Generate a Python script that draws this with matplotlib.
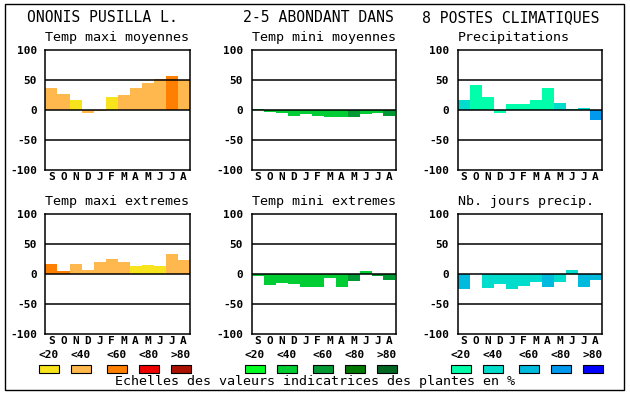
import matplotlib
matplotlib.use("Agg")
import matplotlib.pyplot as plt
from matplotlib.patches import Rectangle

months = ["S", "O", "N", "D", "J", "F", "M", "A", "M", "J", "J", "A"]
classes = ["<20", "<40", "<60", "<80", ">80"]

# palettes for the three families of indicators
warm = ["#F8E41C", "#FFB84D", "#FF8000", "#EE0000", "#AA1100"]
green = ["#00FF22", "#00CC33", "#009933", "#007700", "#006622"]
blue = ["#00FFAA", "#00DDCC", "#00BBDD", "#0099EE", "#0000FF"]

# values (%) and class index of each month
tmax_moy = [37, 27, 17, -5.5, -2, 22, 25.5, 37, 45.5, 52, 57, 50]
tmax_moy_cls = [1, 1, 0, 1, 1, 0, 1, 1, 1, 1, 2, 1]
tmin_moy = [2, -3, -5.5, -10.5, -7, -10.5, -12, -12, -12, -7, -5.5, -10.5]
tmin_moy_cls = [1, 1, 1, 1, 1, 1, 1, 1, 2, 1, 1, 2]
precip = [17, 42, 22, -5.5, 10.5, 10.5, 17, 37, 12, 2, 3, -16]
precip_cls = [1, 0, 0, 0, 0, 0, 0, 0, 1, 1, 1, 3]
tmax_ext = [17, 5, 17, 7, 20, 25, 20, 13, 15, 13, 33, 23]
tmax_ext_cls = [2, 2, 1, 1, 1, 1, 1, 0, 0, 0, 1, 1]
tmin_ext = [-4, -18, -14.5, -16, -22, -21, -6, -21, -12, 5.5, -3.5, -10.5]
tmin_ext_cls = [1, 1, 1, 1, 1, 1, 1, 1, 2, 1, 2, 2]
nb_jours = [-25.5, 0, -24, -16, -25.5, -20.5, -14, -22, -14, 7, -22, -10.5]
nb_jours_cls = [2, 1, 1, 1, 1, 1, 1, 2, 1, 1, 2, 2]

W, H = 630, 394
mono = "DejaVu Sans Mono"
small = 8.0

fig = plt.figure(figsize=(W / 100, H / 100), dpi=100)
fig.patches.append(Rectangle((5 / W, 1 - 390 / H), 619 / W, 386 / H,
                             transform=fig.transFigure, fill=False,
                             edgecolor="black", linewidth=1))


def px(x, y):
    return x / W, 1 - y / H


def panel(x0, y0, title, vals, cls, pal):
    ax = fig.add_axes([x0 / W, 1 - (y0 + 120) / H, 144 / W, 120 / H])
    cols = [pal[c] for c in cls]
    ax.bar(range(12), vals, width=1.0, color=cols, zorder=1)
    for yv in (-50, 0, 50):
        ax.axhline(yv, color="black", linewidth=1.1, zorder=3)
    ax.set_xlim(-0.5, 11.5)
    ax.set_ylim(-100, 100)
    ax.set_yticks([100, 50, 0, -50, -100])
    ax.set_yticklabels(["100", "50", "0", "-50", "-100"], fontfamily=mono,
                       fontweight="bold", fontsize=small)
    ax.set_xticks(range(12))
    ax.set_xticklabels(months, fontfamily=mono, fontweight="bold", fontsize=small)
    ax.tick_params(axis="x", length=0, pad=1.5)
    ax.tick_params(axis="y", length=0, pad=6)
    for s in ax.spines.values():
        s.set_linewidth(1.1)
    fx, fy = px(x0, y0 - 12)
    fig.text(fx, fy, title, fontfamily=mono, fontsize=9.6, ha="left", va="center")
    return ax


col_x = [45.5, 251.5, 457.5]
top_y, bot_y = 50, 214

panel(col_x[0], top_y, "Temp maxi moyennes", tmax_moy, tmax_moy_cls, warm)
panel(col_x[1], top_y, "Temp mini moyennes", tmin_moy, tmin_moy_cls, green)
panel(col_x[2], top_y, "Precipitations", precip, precip_cls, blue)
panel(col_x[0], bot_y, "Temp maxi extremes", tmax_ext, tmax_ext_cls, warm)
panel(col_x[1], bot_y, "Temp mini extremes", tmin_ext, tmin_ext_cls, green)
panel(col_x[2], bot_y, "Nb. jours precip.", nb_jours, nb_jours_cls, blue)

# legend swatches under each column
offsets = [-6.5, 25.5, 61.5, 93.5, 125.5]
for x0, pal in zip(col_x, [warm, green, blue]):
    for off, c, lab in zip(offsets, pal, classes):
        lx = x0 + off
        fig.patches.append(Rectangle(px(lx, 373), 20 / W, 8 / H,
                                     transform=fig.transFigure,
                                     facecolor=c, edgecolor="black", linewidth=0.8))
        tx, ty = px(lx + 10, 358)
        fig.text(tx, ty, lab, fontfamily=mono, fontweight="bold", fontsize=small,
                 ha="center", va="baseline")

# header
for x, t in [(27, "ONONIS PUSILLA L."), (243, "2-5 ABONDANT DANS"),
             (422, "8 POSTES CLIMATIQUES")]:
    tx, ty = px(x, 18)
    fig.text(tx, ty, t, fontfamily=mono, fontsize=10.6, ha="left", va="center")

tx, ty = px(115, 382)
fig.text(tx, ty, "Echelles des valeurs indicatrices des plantes en %",
         fontfamily=mono, fontsize=9.6, ha="left", va="center")

fig.savefig("out.png", dpi=100)
